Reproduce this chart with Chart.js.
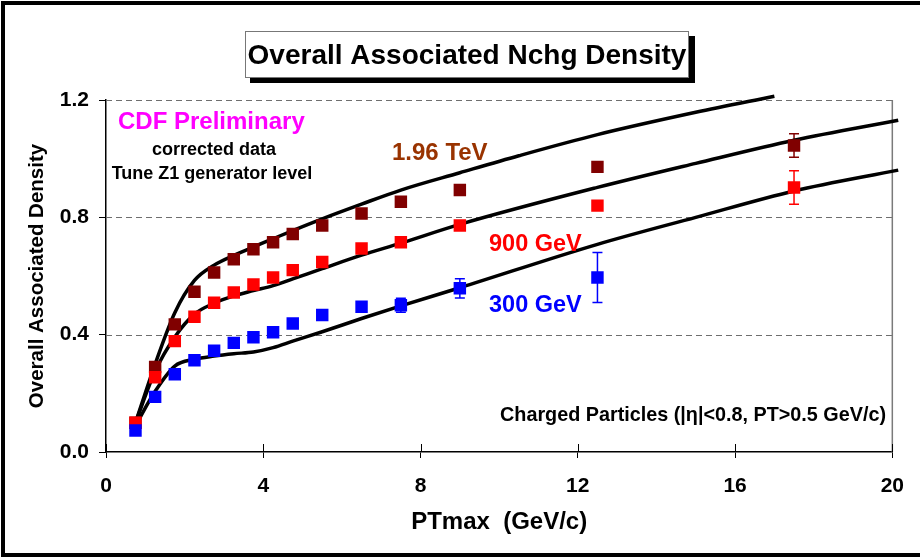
<!DOCTYPE html>
<html>
<head>
<meta charset="utf-8">
<script src="https://cdn.jsdelivr.net/npm/chart.js@4.4.1/dist/chart.umd.min.js"></script>
<style>
  html, body { margin: 0; padding: 0; background: #fff; }
</style>
</head>
<body>
<canvas id="chart" width="920" height="560"></canvas>
<script>
// data
var ptBins = [0.75, 1.25, 1.75, 2.25, 2.75, 3.25, 3.75, 4.25, 4.75, 5.5, 6.5, 7.5, 9, 12.5, 17.5];
var data1960 = [0.10, 0.29, 0.435, 0.546, 0.612, 0.657, 0.691, 0.715, 0.743, 0.772, 0.813, 0.853, 0.893, 0.972, 1.045];
var err1960  = [0, 0, 0, 0, 0, 0, 0, 0, 0, 0, 0, 0, 0, 0.012, 0.04];
var data900  = [0.10, 0.255, 0.378, 0.461, 0.509, 0.544, 0.571, 0.595, 0.62, 0.648, 0.694, 0.715, 0.772, 0.84, 0.902];
var err900   = [0, 0, 0, 0, 0, 0, 0, 0, 0, 0, 0, 0, 0, 0, 0.057];
var data300  = [0.073, 0.188, 0.265, 0.313, 0.345, 0.372, 0.391, 0.408, 0.438, 0.467, 0.495, 0.50, 0.558, 0.595];
var err300   = [0, 0, 0, 0, 0, 0, 0, 0, 0, 0, 0, 0.024, 0.033, 0.085];

// Tune Z1 generator level curves
var curveX1960 = [0.75, 1.25, 1.75, 2.25, 2.75, 3.25, 3.75, 4.25, 4.75, 5.5, 6.5, 7.5, 9, 10.5, 12.5, 15, 17];
var curve1960  = [0.10, 0.30, 0.475, 0.585, 0.637, 0.67, 0.699, 0.727, 0.755, 0.795, 0.845, 0.893, 0.952, 1.01, 1.082, 1.158, 1.213];
var curveX     = [0.75, 1.25, 1.75, 2.25, 2.75, 3.25, 3.75, 4.25, 4.75, 5.5, 6.5, 7.5, 9, 12.5, 15, 17.5, 20.15];
var curve900   = [0.10, 0.275, 0.392, 0.47, 0.507, 0.532, 0.55, 0.567, 0.59, 0.625, 0.671, 0.712, 0.776, 0.902, 0.984, 1.063, 1.131];
var curve300   = [0.09, 0.207, 0.293, 0.316, 0.327, 0.335, 0.341, 0.356, 0.378, 0.41, 0.455, 0.498, 0.56, 0.708, 0.80, 0.89, 0.961];

var xTicks = [0, 4, 8, 12, 16, 20];
var yTicks = [0.0, 0.4, 0.8, 1.2];

var FONT = '"Liberation Sans", Arial, sans-serif';

function pts(xs, ys) {
  var out = [];
  for (var i = 0; i < ys.length; i++) out.push({x: xs[i], y: ys[i]});
  return out;
}

function markers(label, ys, color, order) {
  return {
    label: label, data: pts(ptBins, ys), order: order,
    pointStyle: 'rect', pointRadius: 8.8, pointBackgroundColor: color,
    pointBorderColor: color, pointBorderWidth: 0, showLine: false
  };
}

function curve(label, xs, ys) {
  return {
    label: label, data: pts(xs, ys), order: 5, showLine: true,
    borderColor: '#000', borderWidth: 3.5, pointRadius: 0,
    cubicInterpolationMode: 'monotone', clip: false
  };
}

var errorBars = [
  {ys: data1960, errs: err1960, color: '#800000'},
  {ys: data900, errs: err900, color: '#ff0000'},
  {ys: data300, errs: err300, color: '#0000ff'}
];

var decor = {
  id: 'decor',
  beforeDatasetsDraw: function(chart) {
    var ctx = chart.ctx, xs = chart.scales.x, ys = chart.scales.y, a = chart.chartArea;
    ctx.save();
    // dashed grid
    ctx.strokeStyle = '#6e6e6e';
    ctx.lineWidth = 1;
    ctx.setLineDash([6, 4]);
    yTicks.forEach(function(v) {
      if (v === 0) return;
      var y = Math.round(ys.getPixelForValue(v)) + 0.5;
      ctx.beginPath(); ctx.moveTo(a.left, y); ctx.lineTo(a.right, y); ctx.stroke();
    });
    ctx.setLineDash([]);
    ctx.strokeStyle = '#7a7a7a';
    ctx.lineWidth = 1.5;
    ctx.beginPath(); ctx.moveTo(a.right, a.top); ctx.lineTo(a.right, a.bottom); ctx.stroke();
    // inner halves of x ticks
    ctx.strokeStyle = '#000';
    ctx.lineWidth = 1;
    xTicks.forEach(function(v) {
      var x = Math.round(xs.getPixelForValue(v)) + 0.5;
      ctx.beginPath(); ctx.moveTo(x, a.bottom); ctx.lineTo(x, a.bottom - 8); ctx.stroke();
    });
    // error bars
    errorBars.forEach(function(s) {
      ctx.strokeStyle = s.color;
      ctx.lineWidth = 1.5;
      s.errs.forEach(function(e, i) {
        if (!e) return;
        var x = xs.getPixelForValue(ptBins[i]);
        var y1 = ys.getPixelForValue(s.ys[i] + e), y2 = ys.getPixelForValue(s.ys[i] - e);
        ctx.beginPath();
        ctx.moveTo(x, y1); ctx.lineTo(x, y2);
        ctx.moveTo(x - 5, y1); ctx.lineTo(x + 5, y1);
        ctx.moveTo(x - 5, y2); ctx.lineTo(x + 5, y2);
        ctx.stroke();
      });
    });
    ctx.restore();
  },
  afterDraw: function(chart) {
    var ctx = chart.ctx;
    ctx.save();
    // outer frame
    ctx.strokeStyle = '#000';
    ctx.lineWidth = 4;
    ctx.strokeRect(3, 3, 960, 552);
    // title box with shadow
    ctx.fillStyle = '#000';
    ctx.fillRect(250, 36, 445, 47);
    ctx.fillStyle = '#fff';
    ctx.fillRect(245, 31, 444, 47);
    ctx.strokeStyle = '#777';
    ctx.lineWidth = 1;
    ctx.strokeRect(245.5, 31.5, 443, 46);
    ctx.fillStyle = '#000';
    ctx.textAlign = 'center';
    ctx.textBaseline = 'alphabetic';
    ctx.font = 'bold 28px ' + FONT;
    ctx.fillText('Overall Associated Nchg Density', 467, 64);

    ctx.textAlign = 'left';
    ctx.font = 'bold 24px ' + FONT;
    ctx.fillStyle = '#ff00ff';
    ctx.fillText('CDF Preliminary', 118, 129);
    ctx.textAlign = 'center';
    ctx.font = 'bold 18px ' + FONT;
    ctx.fillStyle = '#000';
    ctx.fillText('corrected data', 214, 155);
    ctx.fillText('Tune Z1 generator level', 212, 179);

    ctx.textAlign = 'left';
    ctx.font = 'bold 24px ' + FONT;
    ctx.fillStyle = '#993300';
    ctx.fillText('1.96 TeV', 392, 160);
    ctx.font = 'bold 23.5px ' + FONT;
    ctx.fillStyle = '#ff0000';
    ctx.fillText('900 GeV', 489, 251);
    ctx.fillStyle = '#0000ff';
    ctx.fillText('300 GeV', 489, 312);

    ctx.textAlign = 'right';
    ctx.font = 'bold 19.8px ' + FONT;
    ctx.fillStyle = '#000';
    ctx.fillText('Charged Particles (|\u03b7|<0.8, PT>0.5 GeV/c)', 886, 421);
    ctx.restore();
  }
};

new Chart(document.getElementById('chart'), {
  type: 'scatter',
  data: {
    datasets: [
      markers('300 GeV', data300, '#0000ff', 0),
      markers('900 GeV', data900, '#ff0000', 1),
      markers('1.96 TeV', data1960, '#800000', 2),
      curve('Z1 1.96 TeV', curveX1960, curve1960),
      curve('Z1 900 GeV', curveX, curve900),
      curve('Z1 300 GeV', curveX, curve300)
    ]
  },
  options: {
    responsive: false,
    animation: false,
    devicePixelRatio: 1,
    layout: { padding: { top: 100, right: 22, left: 0, bottom: 0 } },
    plugins: { legend: { display: false }, tooltip: { enabled: false } },
    scales: {
      x: {
        type: 'linear', min: 0, max: 20,
        afterFit: function(s) { s.height = 108; },
        afterBuildTicks: function(s) { s.ticks = xTicks.map(function(v) { return {value: v}; }); },
        ticks: { color: '#000', padding: 16, font: { family: FONT, size: 21, weight: 'bold' } },
        grid: { drawOnChartArea: false, tickLength: 6, color: '#000', tickColor: '#000' },
        border: { color: '#000', width: 1.5 },
        title: { display: true, text: 'PTmax  (GeV/c)', color: '#000', padding: { top: 0, bottom: 23 },
                 font: { family: FONT, size: 24, weight: 'bold' } }
      },
      y: {
        type: 'linear', min: 0, max: 1.2,
        afterFit: function(s) { s.width = 106; },
        afterBuildTicks: function(s) { s.ticks = yTicks.map(function(v) { return {value: v}; }); },
        ticks: { color: '#000', padding: 10, font: { family: FONT, size: 21, weight: 'bold' },
                 callback: function(v) { return v.toFixed(1); } },
        grid: { drawOnChartArea: false, tickLength: 7, color: '#000', tickColor: '#000' },
        border: { color: '#000', width: 1.5 },
        title: { display: true, text: 'Overall Associated Density', color: '#000', padding: { top: 25, bottom: 0 },
                 font: { family: FONT, size: 20.5, weight: 'bold' } }
      }
    }
  },
  plugins: [decor]
});
</script>
</body>
</html>
